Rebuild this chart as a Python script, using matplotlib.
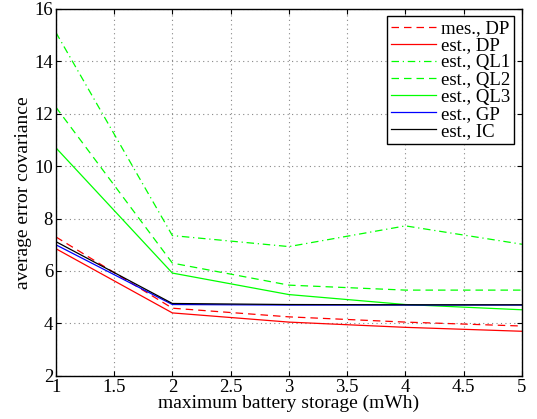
import matplotlib
matplotlib.use("Agg")
import matplotlib.pyplot as plt

plt.rcParams['font.family'] = ['Liberation Serif', 'DejaVu Serif']

storage = [1, 2, 3, 4, 5]
mes_dp = [7.3, 4.58, 4.25, 4.05, 3.9]
est_dp = [6.85, 4.4, 4.05, 3.85, 3.7]
est_ql1 = [15.1, 7.35, 6.93, 7.72, 7.02]
est_ql2 = [12.25, 6.3, 5.46, 5.27, 5.27]
est_ql3 = [10.7, 5.92, 5.1, 4.72, 4.52]
est_gp = [7.0, 4.72, 4.7, 4.7, 4.7]
est_ic = [7.12, 4.76, 4.72, 4.71, 4.71]

fig = plt.figure(figsize=(5.37, 4.19), dpi=100)
ax = fig.add_axes([0.104, 0.103, 0.868, 0.876])

lw = 0.9
ax.plot(storage, mes_dp, color='red', ls=(0, (6, 4)), lw=lw, label='mes., DP')
ax.plot(storage, est_dp, color='red', ls='-', lw=lw, label='est., DP')
ax.plot(storage, est_ql1, color=(0, 1, 0), ls=(0, (6, 3, 1, 3)), lw=lw, label='est., QL1')
ax.plot(storage, est_ql2, color=(0, 1, 0), ls=(0, (6, 4)), lw=lw, label='est., QL2')
ax.plot(storage, est_ql3, color=(0, 1, 0), ls='-', lw=lw, label='est., QL3')
ax.plot(storage, est_gp, color='blue', ls='-', lw=lw, label='est., GP')
ax.plot(storage, est_ic, color='black', ls='-', lw=lw, label='est., IC')

ax.set_xlim(1, 5)
ax.set_ylim(2, 16)
ax.set_xticks([1, 1.5, 2, 2.5, 3, 3.5, 4, 4.5, 5])
ax.set_xticklabels(['1', '1.5', '2', '2.5', '3', '3.5', '4', '4.5', '5'])
ax.set_yticks(range(2, 17, 2))
ax.grid(True, color='#888888', ls=(0, (1, 3)), lw=0.8)
ax.tick_params(direction='in', top=True, right=True, labelsize=13.5, pad=2)
for s in ax.spines.values():
    s.set_linewidth(1.0)

ax.set_xlabel('maximum battery storage (mWh)', fontsize=14, labelpad=-1)
ax.set_ylabel('average error covariance', fontsize=14, labelpad=2)

leg = ax.legend(loc='upper right', fontsize=13.5, fancybox=False, framealpha=1,
                edgecolor='black', borderpad=0.2, labelspacing=0.0,
                handlelength=2.4, handletextpad=0.3, borderaxespad=0.4)
leg.get_frame().set_linewidth(1.0)

fig.savefig('out.png', dpi=100)
